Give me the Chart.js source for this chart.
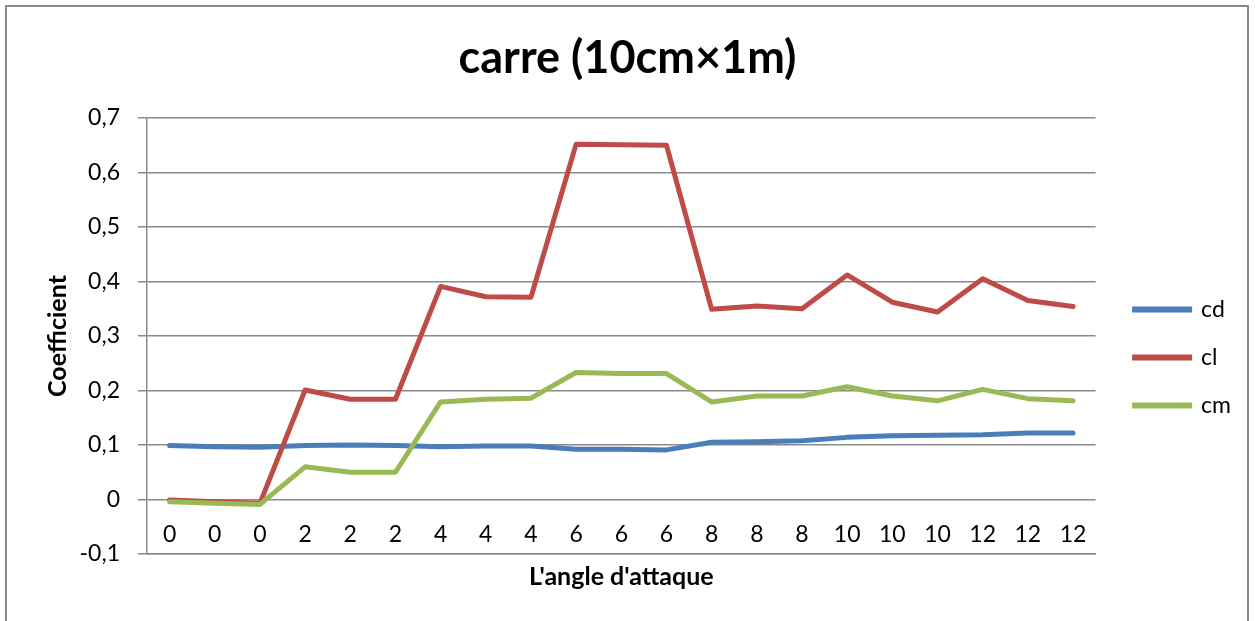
<!DOCTYPE html>
<html>
<head>
<meta charset="utf-8">
<script src="https://cdn.jsdelivr.net/npm/chart.js@4"></script>
<style>
  html, body { margin: 0; padding: 0; background: #ffffff; }
  #wrap { position: relative; width: 1255px; height: 621px; overflow: hidden; }
  #frame { position: absolute; left: 5px; top: 5px; width: 1244px; height: 700px; border: 2px solid #8a8a8a; box-sizing: border-box; }
  canvas { position: absolute; left: 0; top: 0; }
</style>
</head>
<body>
<div id="wrap">
  <div id="frame"></div>
  <canvas id="c" width="1255" height="621"></canvas>
</div>
<script>
const chartTitle = 'carre (10cm\u00d71m)';
const xAxisTitle = "L'angle d'attaque";
const yAxisTitle = 'Coefficient';
const categories = ['0','0','0','2','2','2','4','4','4','6','6','6','8','8','8','10','10','10','12','12','12'];
const seriesNames = ['cd', 'cl', 'cm'];
const cd = [0.099, 0.097, 0.096, 0.099, 0.100, 0.099, 0.097, 0.098, 0.098, 0.092, 0.092, 0.091, 0.105, 0.106, 0.108, 0.114, 0.117, 0.118, 0.119, 0.122, 0.122];
const cl = [-0.001, -0.004, -0.007, 0.201, 0.184, 0.184, 0.391, 0.372, 0.371, 0.652, 0.651, 0.650, 0.349, 0.355, 0.350, 0.412, 0.362, 0.344, 0.405, 0.365, 0.354];
const cm = [-0.004, -0.007, -0.009, 0.060, 0.050, 0.050, 0.179, 0.184, 0.186, 0.233, 0.231, 0.231, 0.179, 0.190, 0.190, 0.207, 0.190, 0.181, 0.202, 0.185, 0.181];
const yMin = -0.1, yMax = 0.7, yStep = 0.1;

const colors = ['#4A7EBB', '#BE4B48', '#98B954'];
const FONT = 'Lato, "Open Sans", sans-serif';
const SIDE = 14;
const LINE_W = 5;

function ds(label, data, color, order) {
  return {
    label, data, order,
    borderColor: color, backgroundColor: color,
    borderWidth: LINE_W, pointRadius: 0, pointHoverRadius: 0,
    tension: 0, borderCapStyle: 'round', borderJoinStyle: 'round', fill: false
  };
}

new Chart(document.getElementById('c'), {
  type: 'line',
  data: {
    labels: categories,
    datasets: [
      ds(seriesNames[0], cd, colors[0], 3),
      ds(seriesNames[1], cl, colors[1], 2),
      ds(seriesNames[2], cm, colors[2], 1)
    ]
  },
  options: {
    responsive: false,
    animation: false,
    devicePixelRatio: 1,
    layout: { padding: { left: SIDE, right: SIDE, top: 0, bottom: 0 } },
    plugins: {
      tooltip: { enabled: false },
      title: {
        display: true, text: chartTitle, color: '#000',
        font: { family: FONT, size: 45, weight: 'bold', lineHeight: 1.2 },
        padding: { top: 31, bottom: 33 }
      },
      legend: {
        display: true, position: 'right', align: 'center',
        title: { display: true, text: '', font: { size: 10, lineHeight: 1 }, padding: { top: 84, bottom: 0 } },
        labels: {
          color: '#000',
          font: { family: FONT, size: 23, lineHeight: 1 },
          boxWidth: 55, boxHeight: 1, padding: 25,
          sort: (a, b) => a.datasetIndex - b.datasetIndex,
          generateLabels: (chart) => chart.data.datasets.map((d, i) => ({
            text: d.label, fillStyle: d.borderColor, strokeStyle: d.borderColor,
            lineWidth: LINE_W, lineCap: 'round', hidden: false, datasetIndex: i, fontColor: '#000'
          }))
        }
      }
    },
    scales: {
      x: {
        type: 'category',
        offset: true,
        grid: { display: false, drawTicks: false },
        border: { display: true, color: '#8a8a8a', width: 1.5 },
        ticks: { color: '#000', font: { family: FONT, size: 23, lineHeight: 1.2 }, mirror: true, padding: 6, autoSkip: false, maxRotation: 0 },
        title: { display: true, text: xAxisTitle, color: '#000', font: { family: FONT, size: 25, weight: 'bold', lineHeight: 1.2 }, padding: { top: 0, bottom: 29 } },
        afterFit: (s) => { s.height = 67; }
      },
      y: {
        min: yMin, max: yMax,
        grid: { color: '#8a8a8a', lineWidth: 1.5, tickLength: 9, drawTicks: true },
        border: { display: true, color: '#8a8a8a', width: 1.5 },
        ticks: {
          stepSize: yStep, color: '#000', padding: 18,
          font: { family: FONT, size: 23 },
          callback: (v) => { const r = Math.round(v * 10) / 10; return String(r).replace('.', ','); }
        },
        title: { display: true, text: yAxisTitle, color: '#000', font: { family: FONT, size: 25, weight: 'bold', lineHeight: 1.2 }, padding: { top: 29, bottom: 0 } },
        afterFit: (s) => { s.width = 147 - SIDE; }
      },
      gap: {
        type: 'linear', position: 'right', display: true,
        grid: { display: false, drawTicks: false },
        border: { display: false },
        ticks: { display: false },
        afterFit: (s) => { s.width = 14; }
      }
    }
  }
});
</script>
</body>
</html>
